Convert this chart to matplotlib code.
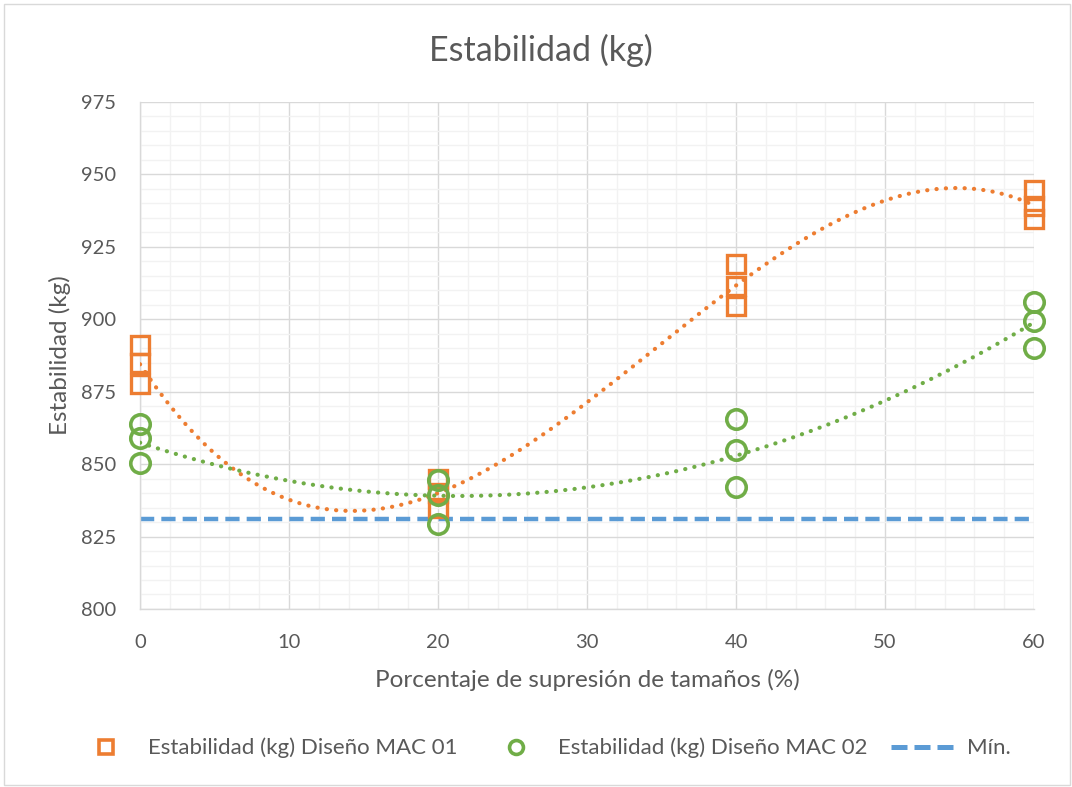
import numpy as np
import matplotlib
matplotlib.use("Agg")
import matplotlib.pyplot as plt
from matplotlib.lines import Line2D
from matplotlib.patches import Rectangle

plt.rcParams['font.family'] = ['Lato', 'DejaVu Sans']

# Percentage of size suppression (%) and measured stability (kg)
x_mac01 = [0, 0, 0, 20, 20, 20, 40, 40, 40, 60, 60, 60]
y_mac01 = [891, 885, 877.5, 845, 840, 835, 919, 911.5, 904.5, 944.5, 939, 934.5]
x_mac02 = [0, 0, 0, 20, 20, 20, 40, 40, 40, 60, 60, 60]
y_mac02 = [864, 859, 850.5, 844.5, 839.5, 829.5, 865.5, 855, 842, 906, 899.5, 890]
min_value = 831

label_mac01 = "Estabilidad (kg) Diseño MAC 01"
label_mac02 = "Estabilidad (kg) Diseño MAC 02"
label_min = "Mín."

orange = "#ED7D31"
green = "#70AD47"
blue = "#5B9BD5"
text_col = "#595959"

fig = plt.figure(figsize=(10.72, 7.87), dpi=100)
ax = fig.add_axes([0.1306, 0.2262, 0.834, 0.6442])

# Grid
ax.set_xlim(0, 60)
ax.set_ylim(800, 975)
ax.set_xticks(np.arange(0, 61, 10))
ax.set_yticks(np.arange(800, 976, 25))
ax.set_xticks(np.arange(0, 61, 2), minor=True)
ax.set_yticks(np.arange(800, 976, 5), minor=True)
ax.grid(which='minor', color='#F2F2F2', lw=1.0, zorder=0)
ax.grid(which='major', color='#D9D9D9', lw=1.0, zorder=0)
ax.set_axisbelow(True)
ax.tick_params(which='both', length=0, labelsize=14.5, colors=text_col)
ax.tick_params(axis='y', pad=17)
ax.tick_params(axis='x', pad=18)
for s in ['top', 'right']:
    ax.spines[s].set_visible(False)
for s in ['left', 'bottom']:
    ax.spines[s].set_color('#D9D9D9')
    ax.spines[s].set_linewidth(1.0)

# Minimum line
ax.plot([0, 60], [min_value, min_value], color=blue, lw=3.2,
        linestyle=(0, (3.2, 1.6)), zorder=2)

# Polynomial trend lines
xs = np.linspace(0, 60, 300)
c1 = np.polyfit(x_mac01, y_mac01, 3)
c2 = np.polyfit(x_mac02, y_mac02, 2)
dot = (0, (0.05, 2.2))
ax.plot(xs, np.polyval(c1, xs), color=orange, lw=3.0, linestyle=dot,
        dash_capstyle='round', zorder=3)
ax.plot(xs, np.polyval(c2, xs), color=green, lw=3.0, linestyle=dot,
        dash_capstyle='round', zorder=3)

# Data points
ax.plot(x_mac01, y_mac01, linestyle='none', marker='s', ms=13.5, mfc='none',
        mec=orange, mew=2.4, zorder=4, clip_on=False)
ax.plot(x_mac02, y_mac02, linestyle='none', marker='o', ms=14, mfc='none',
        mec=green, mew=2.6, zorder=4, clip_on=False)

fig.text(541 / 1072, 1 - 50 / 787, "Estabilidad (kg)", fontsize=24.5,
         color=text_col, ha='center', va='center')
ax.set_xlabel("Porcentaje de supresión de tamaños (%)", fontsize=17.5,
              color=text_col, va='center')
ax.xaxis.set_label_coords(0.5, (609 - 680) / 507)
ax.set_ylabel("Estabilidad (kg)", fontsize=17.5, color=text_col,
              va='center', ha='center')
ax.yaxis.set_label_coords((60 - 140) / 894, 0.5)

handles = [
    Line2D([], [], linestyle='none', marker='s', ms=10, mfc='none', mec=orange, mew=2.6),
    Line2D([], [], linestyle='none', marker='o', ms=10, mfc='none', mec=green, mew=2.6),
    Line2D([], [], color=blue, lw=3.6, linestyle=(0, (3.2, 1.4))),
]
fig.legend(handles, [label_mac01, label_mac02, label_min], loc='center',
           bbox_to_anchor=(0.505, 1 - 748 / 787), ncol=3, frameon=False,
           fontsize=16, labelcolor=text_col, handlelength=3.1,
           columnspacing=1.05, handletextpad=0.35)

# Chart border
fig.patches.append(Rectangle((0.004, 0.002), 0.994, 0.993, transform=fig.transFigure,
                             fill=False, edgecolor='#D9D9D9', lw=1.0))

fig.savefig("out.png", dpi=100)
